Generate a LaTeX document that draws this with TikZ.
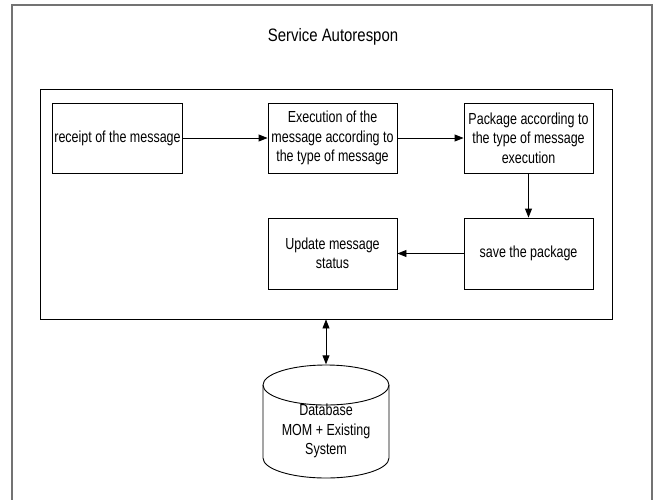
\documentclass[tikz,border=0pt]{standalone}
\usepackage{fontspec}
\setmainfont{Liberation Sans}[FakeStretch=0.78]
\newfontfamily\titlefont{Liberation Sans}[FakeStretch=0.83]
\usetikzlibrary{arrows.meta}
\begin{document}
\begin{tikzpicture}[x=1pt,y=-1pt,
  every node/.style={font=\fontsize{16}{19.5}\selectfont},
  stepbox/.style={draw=black, line width=0.9pt, minimum width=129pt, minimum height=70pt,
    inner sep=2pt, align=center},
  flow/.style={draw=black, line width=0.9pt, -{Triangle[length=9pt,width=7pt]}},
  both/.style={draw=black, line width=0.9pt, {Triangle[length=9pt,width=7pt]}-{Triangle[length=9pt,width=7pt]}}]
\clip (0,0) rectangle (654,499);
\useasboundingbox (0,0) rectangle (654,499);
\fill[white] (0,0) rectangle (654,499);

% outer service frame
\draw[line width=2pt, draw=black!55] (12,5) rectangle (652,530);
\node[font=\titlefont\fontsize{18}{22}\selectfont] (title) at (333,37) {Service Autorespon};

% inner process frame
\node[draw=black, line width=0.9pt, minimum width=572pt, minimum height=230pt, inner sep=0pt] (svc) at (326,204) {};

% process steps
\node[stepbox] (recv) at (117.5,138) {receipt of the message};
\node[stepbox] (exec) at (332.5,138) {Execution of the\\message according to\\the type of message};
\node[stepbox] (pack) at (528.5,138) {Package according to\\the type of message\\execution};
\node[stepbox, minimum height=71pt] (save) at (528.5,253.5) {save the package};
\node[stepbox, minimum height=71pt] (upd) at (332.5,253.5) {Update message\\status};

\draw[flow] (recv) -- (exec);
\draw[flow] (exec) -- (pack);
\draw[flow] (pack) -- (save);
\draw[flow] (save) -- (upd);

% database cylinder
\node[minimum width=126pt, minimum height=114pt, inner sep=0pt] (db) at (326,421.5) {};
\draw[line width=0.9pt] (263,385) -- (263,458) arc[start angle=180, end angle=0, x radius=63, y radius=20]
  -- (389,385);
\draw[line width=0.9pt] (326,385) ellipse[x radius=63, y radius=20];
\node[align=center, inner sep=0pt] (dbtext) at (326,431) {Database\\MOM + Existing\\System};

\draw[both] (svc.south -| db.north) -- (db.north);
\end{tikzpicture}
\end{document}
